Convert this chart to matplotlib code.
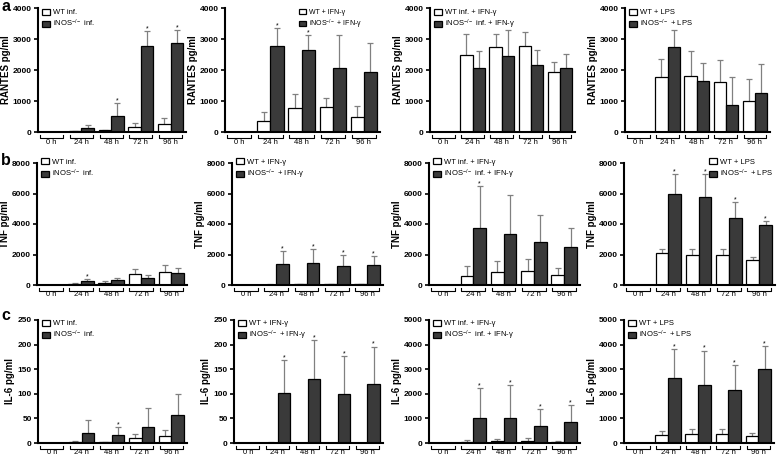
import numpy as np
import matplotlib.pyplot as plt
from matplotlib.patches import Patch

plt.rcParams['font.family'] = ['Liberation Sans', 'DejaVu Sans']
plt.rcParams['mathtext.default'] = 'regular'

W, H = 778, 457

times = ["0 h", "24 h", "48 h", "72 h", "96 h"]

# --- RANTES (pg/ml): mean and SD -------------------------------------------
rantes_inf_wt = [0, 30, 60, 170, 250]
rantes_inf_wt_sd = [0, 10, 10, 130, 190]
rantes_inf_ko = [0, 120, 520, 2760, 2860]
rantes_inf_ko_sd = [0, 90, 410, 490, 420]

rantes_ifn_wt = [0, 360, 790, 820, 500]
rantes_ifn_wt_sd = [0, 290, 450, 290, 340]
rantes_ifn_ko = [0, 2760, 2630, 2080, 1950]
rantes_ifn_ko_sd = [0, 590, 500, 1040, 920]

rantes_infifn_wt = [0, 2480, 2750, 2780, 1940]
rantes_infifn_wt_sd = [0, 680, 420, 450, 310]
rantes_infifn_ko = [0, 2060, 2460, 2170, 2060]
rantes_infifn_ko_sd = [0, 560, 840, 480, 450]

rantes_lps_wt = [0, 1780, 1820, 1600, 1000]
rantes_lps_wt_sd = [0, 570, 780, 710, 710]
rantes_lps_ko = [0, 2750, 1650, 870, 1250]
rantes_lps_ko_sd = [0, 550, 580, 910, 940]

# --- TNF (pg/ml) ------------------------------------------------------------
tnf_inf_wt = [0, 50, 150, 740, 870]
tnf_inf_wt_sd = [0, 60, 110, 290, 420]
tnf_inf_ko = [0, 260, 310, 440, 790]
tnf_inf_ko_sd = [0, 150, 170, 240, 350]

tnf_ifn_wt = [0, 30, 50, 60, 60]
tnf_ifn_wt_sd = [0, 10, 10, 10, 10]
tnf_ifn_ko = [0, 1380, 1420, 1220, 1290]
tnf_ifn_ko_sd = [0, 870, 940, 740, 590]

tnf_infifn_wt = [0, 590, 850, 920, 630]
tnf_infifn_wt_sd = [0, 630, 740, 790, 500]
tnf_infifn_ko = [0, 3740, 3370, 2840, 2510]
tnf_infifn_ko_sd = [0, 2730, 2560, 1730, 1200]

tnf_lps_wt = [0, 2080, 1990, 1990, 1660]
tnf_lps_wt_sd = [0, 300, 390, 350, 180]
tnf_lps_ko = [0, 5970, 5750, 4370, 3930]
tnf_lps_ko_sd = [0, 1330, 1510, 1070, 260]

# --- IL-6 (pg/ml) -----------------------------------------------------------
il6_inf_wt = [0, 2, 1.5, 9.5, 13.5]
il6_inf_wt_sd = [0, 1.5, 1.2, 8.5, 13.5]
il6_inf_ko = [0, 21, 16, 33, 57]
il6_inf_ko_sd = [0, 26, 17, 39, 42]

il6_ifn_wt = [0, 1, 0, 0, 0]
il6_ifn_wt_sd = [0, 0.5, 0, 0, 0]
il6_ifn_ko = [0, 101, 130, 99, 119]
il6_ifn_ko_sd = [0, 68, 80, 77, 77]

il6_infifn_wt = [0, 54, 95, 95, 40]
il6_infifn_wt_sd = [0, 54, 67, 121, 28]
il6_infifn_ko = [0, 1000, 1014, 703, 851]
il6_infifn_ko_sd = [0, 1230, 1324, 689, 689]

il6_lps_wt = [0, 324, 378, 378, 297]
il6_lps_wt_sd = [0, 149, 190, 190, 108]
il6_lps_ko = [0, 2635, 2378, 2162, 3027]
il6_lps_ko_sd = [0, 1203, 1379, 1000, 905]

# legend labels per column
KO = r"iNOS$^{-/-}$"
labels_inf = ["WT inf.", KO + " inf."]
labels_ifn = ["WT + IFN-γ", KO + " + IFN-γ"]
labels_infifn = ["WT inf. + IFN-γ", KO + " inf. + IFN-γ"]
labels_lps = ["WT + LPS", KO + " + LPS"]

# time points (index) marked with an asterisk on the iNOS-/- bar
stars_rantes = [[2, 3, 4], [1, 2], [], []]
stars_tnf = [[1], [1, 2, 3, 4], [1], [1, 2, 3, 4]]
stars_il6 = [[2], [1, 2, 3, 4], [1, 2, 3, 4], [1, 2, 3, 4]]

WT_COLOR = "white"
KO_COLOR = "#3a3a3a"
ERR_COLOR = "#808080"

# axes boxes in pixels: (left, right) per column, (top, bottom) per row
row_tb = [(8, 132), (163, 285), (320, 443)]
col_lr = [
    [(38, 186), (225, 380), (430, 575), (625, 770)],
    [(37, 187), (232, 383), (429, 580), (624, 775)],
    [(38, 187), (234, 383), (429, 580), (624, 774)],
]


def draw_panel(fig, box, wt, wt_sd, ko, ko_sd, labels, ymax, ystep,
               ylabel, stars, legend_right=None, legend_size=5.5, legend_dy=0):
    (l, r), (t, b) = box
    wpx, hpx = r - l, b - t
    ax = fig.add_axes([l / W, 1 - b / H, wpx / W, hpx / H])

    x = np.arange(len(times))
    w = 0.42
    ax.bar(x - w / 2, wt, w, color=WT_COLOR, edgecolor="black", linewidth=0.9, zorder=2)
    ax.bar(x + w / 2, ko, w, color=KO_COLOR, edgecolor="black", linewidth=0.9, zorder=2)

    for xs, m, s in ((x - w / 2, wt, wt_sd), (x + w / 2, ko, ko_sd)):
        m = np.asarray(m, float)
        s = np.asarray(s, float)
        keep = s > 0
        ax.vlines(xs[keep], m[keep], (m + s)[keep], color=ERR_COLOR, lw=0.9, zorder=1)
        ax.plot(xs[keep], (m + s)[keep], ls="none", marker="_", ms=5, mew=0.9,
                color=ERR_COLOR, zorder=1)

    for i in stars:
        ax.annotate("*", (x[i] + w / 2, ko[i] + ko_sd[i]), xytext=(0, 0.5),
                    textcoords="offset points", ha="center", va="baseline", fontsize=5)

    ax.set_xlim(-0.46, 4.52)
    ax.set_ylim(0, ymax)
    ticks = np.arange(0, ymax + 1, ystep)
    ax.set_yticks(ticks)
    ax.set_yticklabels([f"{int(v)}" for v in ticks], fontsize=6, fontweight="bold")
    ax.tick_params(axis="y", direction="out", length=3, width=1.2, pad=1.5)
    ax.set_xticks([])
    for side in ("top", "right"):
        ax.spines[side].set_visible(False)
    for side in ("left", "bottom"):
        ax.spines[side].set_linewidth(1.5)
    ax.set_ylabel(ylabel, fontsize=7, fontweight="bold", labelpad=1.5)

    # bracket-style category labels under the axis
    trans = ax.get_xaxis_transform()
    y_lo, y_hi = -5.5 / hpx, -3.0 / hpx
    for i, name in enumerate(times):
        ax.plot([i - 0.39, i - 0.39, i + 0.39, i + 0.39], [y_hi, y_lo, y_lo, y_hi],
                transform=trans, clip_on=False, color="black", lw=0.8)
        ax.text(i, -6.5 / hpx, name, transform=trans, ha="center", va="top", fontsize=5.5)

    handles = [Patch(facecolor=WT_COLOR, edgecolor="black", lw=0.9),
               Patch(facecolor=KO_COLOR, edgecolor="black", lw=0.9)]
    top = 1.0 + legend_dy / hpx
    if legend_right is None:
        loc, anchor = "upper left", (4 / wpx, top)
    else:
        loc, anchor = "upper right", (1 - legend_right / wpx, top)
    ax.legend(handles, labels, loc=loc, bbox_to_anchor=anchor, frameon=False,
              fontsize=legend_size, handlelength=1.0, handleheight=0.75,
              handletextpad=0.4, labelspacing=0.22, borderaxespad=0, borderpad=0)
    return ax


fig = plt.figure(figsize=(W / 100, H / 100), dpi=100)

rantes = [
    (rantes_inf_wt, rantes_inf_wt_sd, rantes_inf_ko, rantes_inf_ko_sd, labels_inf),
    (rantes_ifn_wt, rantes_ifn_wt_sd, rantes_ifn_ko, rantes_ifn_ko_sd, labels_ifn),
    (rantes_infifn_wt, rantes_infifn_wt_sd, rantes_infifn_ko, rantes_infifn_ko_sd, labels_infifn),
    (rantes_lps_wt, rantes_lps_wt_sd, rantes_lps_ko, rantes_lps_ko_sd, labels_lps),
]
tnf = [
    (tnf_inf_wt, tnf_inf_wt_sd, tnf_inf_ko, tnf_inf_ko_sd, labels_inf),
    (tnf_ifn_wt, tnf_ifn_wt_sd, tnf_ifn_ko, tnf_ifn_ko_sd, labels_ifn),
    (tnf_infifn_wt, tnf_infifn_wt_sd, tnf_infifn_ko, tnf_infifn_ko_sd, labels_infifn),
    (tnf_lps_wt, tnf_lps_wt_sd, tnf_lps_ko, tnf_lps_ko_sd, labels_lps),
]
il6 = [
    (il6_inf_wt, il6_inf_wt_sd, il6_inf_ko, il6_inf_ko_sd, labels_inf),
    (il6_ifn_wt, il6_ifn_wt_sd, il6_ifn_ko, il6_ifn_ko_sd, labels_ifn),
    (il6_infifn_wt, il6_infifn_wt_sd, il6_infifn_ko, il6_infifn_ko_sd, labels_infifn),
    (il6_lps_wt, il6_lps_wt_sd, il6_lps_ko, il6_lps_ko_sd, labels_lps),
]

for c, d in enumerate(rantes):
    draw_panel(fig, (col_lr[0][c], row_tb[0]), *d, ymax=4000, ystep=1000,
               ylabel="RANTES pg/ml", stars=stars_rantes[c],
               legend_right=18 if c == 1 else None,
               legend_size=5 if c == 1 else 5.5, legend_dy=-1)
for c, d in enumerate(tnf):
    draw_panel(fig, (col_lr[1][c], row_tb[1]), *d, ymax=8000, ystep=2000,
               ylabel="TNF pg/ml", stars=stars_tnf[c],
               legend_right=2 if c == 3 else None, legend_dy=4.5)
for c, d in enumerate(il6):
    ymax, ystep = (250, 50) if c < 2 else (5000, 1000)
    draw_panel(fig, (col_lr[2][c], row_tb[2]), *d, ymax=ymax, ystep=ystep,
               ylabel="IL-6 pg/ml", stars=stars_il6[c])

# panel letters
for letter, y in (("a", 11), ("b", 165), ("c", 320)):
    fig.text(1 / W, 1 - y / H, letter, fontsize=11.5, fontweight="bold", va="baseline")

fig.savefig("out.png", dpi=100)
